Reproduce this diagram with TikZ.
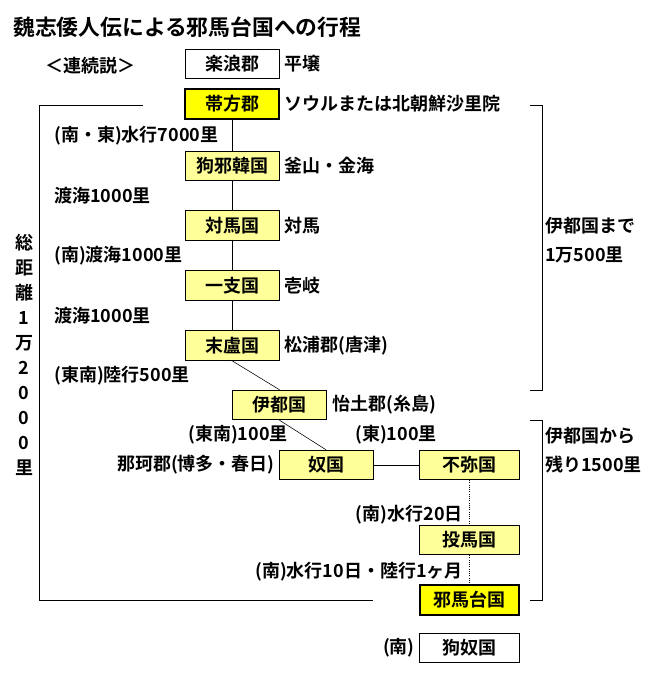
\documentclass[tikz,border=0pt]{standalone}
\usepackage{fontspec}
\setmainfont{Noto Sans CJK JP}[BoldFont={* Bold}]
\usepackage{tikz}
\definecolor{usuki}{RGB}{255,255,153}
\definecolor{kiiro}{RGB}{255,255,0}
\tikzset{
moji/.style={inner sep=0pt, font=\bfseries\fontsize{12.8}{14}\selectfont},
kuni/.style={moji, draw=black, line width=0.6pt, fill=usuki, minimum width=2.35cm, minimum height=0.74cm},
gun/.style={kuni, fill=white},
miyako/.style={kuni, fill=kiiro, line width=1.5pt},
sen/.style={line width=0.6pt}}

\begin{document}
\begin{tikzpicture}[x=0.025cm, y=-0.025cm]

                    \useasboundingbox (0,0) rectangle (664,675);

                    \node[moji, anchor=west, font=\bfseries\fontsize{15.5}{17}\selectfont] (T) at (13,27) {魏志倭人伝による邪馬台国への行程};
                    \node[moji] (S) at (90,66) {＜連続説＞};

                    \node[gun] (A) at (232,64) {楽浪郡};
                    \node[miyako] (B) at (232,104) {帯方郡};
                    \node[kuni] (C) at (232,166) {狗邪韓国};
                    \node[kuni] (D) at (232,225.5) {対馬国};
                    \node[kuni] (E) at (232,285.5) {一支国};
                    \node[kuni] (F) at (232,345.5) {末盧国};
                    \node[kuni] (G) at (279.5,405) {伊都国};
                    \node[kuni] (H) at (326,465) {奴国};
                    \node[kuni, minimum width=2.48cm] (I) at (469.5,465) {不弥国};
                    \node[kuni, minimum width=2.48cm] (J) at (469.5,540) {投馬国};
                    \node[miyako, minimum width=2.48cm] (K) at (469.5,600) {邪馬台国};
                    \node[gun, minimum width=2.48cm] (L) at (469.5,648) {狗奴国};

                    \node[moji, anchor=west] (a) at (284,64) {平壌};
                    \node[moji, anchor=west] (b) at (284,104) {ソウルまたは北朝鮮沙里院};
                    \node[moji, anchor=west] (c) at (284,166) {釜山・金海};
                    \node[moji, anchor=west] (d) at (284,225.5) {対馬};
                    \node[moji, anchor=west] (e) at (284,285.5) {壱岐};
                    \node[moji, anchor=west] (f) at (284,345.5) {松浦郡(唐津)};
                    \node[moji, anchor=west] (g) at (332,405) {怡土郡(糸島)};
                    \node[moji, anchor=east] (h) at (275,465) {那珂郡(博多・春日)};

                    \node[moji, anchor=west] (BC) at (54,136) {(南・東)水行7000里};
                    \node[moji, anchor=west] (CD) at (54,196) {渡海1000里};
                    \node[moji, anchor=west] (DE) at (54,256) {(南)渡海1000里};
                    \node[moji, anchor=west] (EF) at (54,316) {渡海1000里};
                    \node[moji, anchor=west] (FG) at (54,376) {(東南)陸行500里};
                    \node[moji, anchor=east] (GH) at (288,435) {(東南)100里};
                    \node[moji, anchor=east] (HI) at (437,435) {(東)100里};
                    \node[moji, anchor=east] (IJ) at (463,515) {(南)水行20日};
                    \node[moji, anchor=east] (JK) at (463,572) {(南)水行10日・陸行1ヶ月};
                    \node[moji, anchor=east] (KL) at (415,648) {(南)};

                    \node[moji, anchor=west] (P) at (545,226) {伊都国まで};
                    \node[moji, anchor=west] (Q) at (545,255) {1万500里};
                    \node[moji, anchor=west] (R) at (545,436) {伊都国から};
                    \node[moji, anchor=west] (U) at (545,465) {残り1500里};

                    \foreach \c [count=\i from 0] in {総,距,離,1,万,2,0,0,0,里}
                        \node[moji] (V\i) at (24,243+25*\i) {\c};

                    \draw[sen] (B) -- (C);
                    \draw[sen] (C) -- (D);
                    \draw[sen] (D) -- (E);
                    \draw[sen] (E) -- (F);
                    \draw[line width=0.4pt] (F.south) -- (G.north);
                    \draw[line width=0.4pt] (G.south) -- (H.north);
                    \draw[sen] (H) -- (I);
                    \draw[sen, densely dotted] (I) -- (J);
                    \draw[sen, densely dotted] (J) -- (K);

                    \draw[sen] (143,105) -- (39,105) -- (39,600) -- (373,600);
                    \draw[sen] (530,105) -- (542,105) -- (542,390) -- (530,390);
                    \draw[sen] (530,420) -- (542,420) -- (542,600) -- (530,600);

                \end{tikzpicture}
\end{document}
